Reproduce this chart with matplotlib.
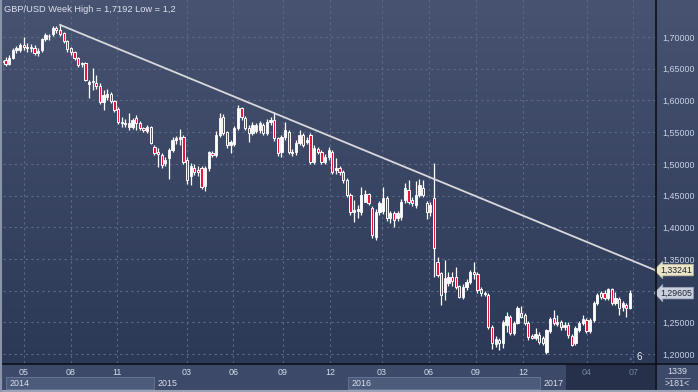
import matplotlib.pyplot as plt
import matplotlib.transforms as mtransforms
from matplotlib.patches import Rectangle
import numpy as np

# GBP/USD weekly candles (oldest first)
opens = [
    1.660, 1.664, 1.658, 1.667, 1.679, 1.680, 1.688, 1.684, 1.682, 1.683,
    1.675, 1.679, 1.697, 1.701, 1.704, 1.715, 1.711, 1.706, 1.694, 1.682,
    1.676, 1.667, 1.657, 1.659, 1.626, 1.629, 1.628, 1.622, 1.598, 1.605,
    1.610, 1.599, 1.587, 1.566, 1.564, 1.558, 1.558, 1.572, 1.564, 1.556,
    1.552, 1.558, 1.527, 1.518, 1.514, 1.501, 1.509, 1.522, 1.537, 1.539,
    1.542, 1.506, 1.480, 1.494, 1.490, 1.493, 1.465, 1.494, 1.517, 1.514,
    1.546, 1.574, 1.550, 1.530, 1.532, 1.557, 1.588, 1.573, 1.557, 1.549,
    1.552, 1.553, 1.561, 1.549, 1.566, 1.569, 1.540, 1.518, 1.542, 1.550,
    1.519, 1.519, 1.533, 1.545, 1.535, 1.545, 1.503, 1.523, 1.519, 1.503,
    1.510, 1.519, 1.490, 1.493, 1.487, 1.474, 1.451, 1.424, 1.426, 1.424,
    1.440, 1.452, 1.430, 1.385, 1.424, 1.425, 1.446, 1.414, 1.422, 1.414,
    1.416, 1.443, 1.459, 1.443, 1.435, 1.451, 1.462, 1.438, 1.424, 1.446,
    1.345, 1.328, 1.298, 1.312, 1.322, 1.322, 1.307, 1.290, 1.306, 1.314,
    1.329, 1.326, 1.302, 1.297, 1.293, 1.243, 1.216, 1.222, 1.218, 1.246,
    1.259, 1.233, 1.249, 1.265, 1.261, 1.249, 1.228, 1.226, 1.230, 1.225,
    1.203, 1.237, 1.257, 1.248, 1.251, 1.242, 1.246, 1.228, 1.217, 1.238,
    1.249, 1.254, 1.236, 1.254, 1.281, 1.296, 1.296, 1.288, 1.302, 1.281,
    1.287, 1.274, 1.278, 1.273]
highs = [
    1.665, 1.668, 1.672, 1.682, 1.686, 1.690, 1.700, 1.690, 1.689, 1.688,
    1.683, 1.699, 1.706, 1.705, 1.717, 1.717, 1.7192, 1.708, 1.696, 1.684,
    1.678, 1.669, 1.661, 1.660, 1.632, 1.651, 1.640, 1.627, 1.616, 1.618,
    1.614, 1.601, 1.590, 1.574, 1.570, 1.580, 1.572, 1.577, 1.567, 1.558,
    1.562, 1.560, 1.529, 1.525, 1.517, 1.510, 1.525, 1.542, 1.544, 1.555,
    1.545, 1.510, 1.502, 1.500, 1.496, 1.496, 1.496, 1.520, 1.520, 1.552,
    1.580, 1.578, 1.552, 1.538, 1.560, 1.593, 1.590, 1.576, 1.561, 1.566,
    1.565, 1.568, 1.565, 1.570, 1.574, 1.582, 1.543, 1.546, 1.566, 1.554,
    1.523, 1.537, 1.553, 1.548, 1.542, 1.548, 1.529, 1.526, 1.522, 1.515,
    1.526, 1.522, 1.509, 1.496, 1.490, 1.477, 1.454, 1.443, 1.435, 1.463,
    1.458, 1.454, 1.433, 1.428, 1.442, 1.463, 1.450, 1.426, 1.426, 1.426,
    1.445, 1.470, 1.474, 1.447, 1.473, 1.476, 1.474, 1.442, 1.440, 1.5018,
    1.353, 1.330, 1.348, 1.330, 1.330, 1.337, 1.309, 1.310, 1.318, 1.333,
    1.345, 1.330, 1.306, 1.300, 1.296, 1.246, 1.228, 1.225, 1.254, 1.266,
    1.262, 1.252, 1.275, 1.276, 1.264, 1.252, 1.232, 1.241, 1.234, 1.228,
    1.240, 1.258, 1.269, 1.262, 1.254, 1.250, 1.250, 1.231, 1.244, 1.252,
    1.262, 1.257, 1.257, 1.284, 1.296, 1.299, 1.301, 1.304, 1.304, 1.298,
    1.290, 1.284, 1.281, 1.301]
lows = [
    1.648, 1.655, 1.656, 1.665, 1.675, 1.676, 1.680, 1.677, 1.676, 1.672,
    1.670, 1.677, 1.693, 1.696, 1.702, 1.707, 1.702, 1.690, 1.677, 1.672,
    1.663, 1.652, 1.653, 1.630, 1.604, 1.616, 1.618, 1.594, 1.585, 1.600,
    1.596, 1.582, 1.563, 1.558, 1.558, 1.554, 1.555, 1.553, 1.553, 1.550,
    1.549, 1.531, 1.514, 1.495, 1.494, 1.497, 1.476, 1.519, 1.532, 1.529,
    1.500, 1.468, 1.466, 1.482, 1.480, 1.460, 1.457, 1.488, 1.510, 1.510,
    1.543, 1.546, 1.525, 1.517, 1.528, 1.553, 1.569, 1.553, 1.534, 1.546,
    1.548, 1.549, 1.546, 1.545, 1.562, 1.536, 1.513, 1.510, 1.538, 1.515,
    1.512, 1.514, 1.530, 1.527, 1.532, 1.500, 1.500, 1.515, 1.500, 1.499,
    1.506, 1.484, 1.484, 1.482, 1.470, 1.447, 1.420, 1.408, 1.414, 1.420,
    1.440, 1.435, 1.383, 1.380, 1.420, 1.421, 1.410, 1.406, 1.401, 1.410,
    1.412, 1.438, 1.436, 1.433, 1.430, 1.447, 1.447, 1.413, 1.417, 1.321,
    1.321, 1.277, 1.285, 1.308, 1.307, 1.303, 1.288, 1.287, 1.301, 1.310,
    1.318, 1.297, 1.292, 1.291, 1.240, 1.208, 1.211, 1.207, 1.209, 1.235,
    1.230, 1.230, 1.247, 1.256, 1.246, 1.222, 1.223, 1.222, 1.215, 1.214,
    1.200, 1.233, 1.246, 1.244, 1.238, 1.238, 1.226, 1.213, 1.214, 1.234,
    1.246, 1.233, 1.233, 1.251, 1.278, 1.287, 1.285, 1.285, 1.277, 1.278,
    1.262, 1.268, 1.258, 1.271]
closes = [
    1.662, 1.658, 1.667, 1.679, 1.682, 1.688, 1.684, 1.682, 1.684, 1.675,
    1.678, 1.697, 1.703, 1.702, 1.715, 1.711, 1.705, 1.694, 1.681, 1.676,
    1.667, 1.656, 1.659, 1.632, 1.629, 1.630, 1.622, 1.597, 1.609, 1.610,
    1.599, 1.585, 1.566, 1.564, 1.563, 1.565, 1.569, 1.564, 1.556, 1.553,
    1.558, 1.533, 1.517, 1.516, 1.498, 1.506, 1.522, 1.538, 1.540, 1.542,
    1.503, 1.475, 1.496, 1.487, 1.487, 1.463, 1.494, 1.518, 1.514, 1.546,
    1.572, 1.549, 1.530, 1.535, 1.557, 1.588, 1.574, 1.557, 1.549, 1.561,
    1.561, 1.564, 1.549, 1.566, 1.569, 1.540, 1.517, 1.542, 1.553, 1.519,
    1.517, 1.533, 1.545, 1.530, 1.538, 1.503, 1.525, 1.519, 1.503, 1.511,
    1.522, 1.487, 1.493, 1.487, 1.474, 1.451, 1.424, 1.427, 1.428, 1.451,
    1.452, 1.438, 1.387, 1.424, 1.438, 1.446, 1.414, 1.422, 1.411, 1.422,
    1.440, 1.462, 1.440, 1.438, 1.451, 1.467, 1.451, 1.424, 1.435, 1.367,
    1.325, 1.293, 1.320, 1.322, 1.315, 1.306, 1.290, 1.306, 1.314, 1.329,
    1.326, 1.301, 1.296, 1.295, 1.243, 1.217, 1.224, 1.218, 1.251, 1.260,
    1.233, 1.249, 1.273, 1.259, 1.249, 1.227, 1.226, 1.232, 1.219, 1.217,
    1.238, 1.255, 1.249, 1.251, 1.242, 1.246, 1.230, 1.214, 1.241, 1.249,
    1.255, 1.236, 1.254, 1.281, 1.293, 1.290, 1.288, 1.302, 1.280, 1.288,
    1.273, 1.280, 1.272, 1.296]

# month grid / labels (bar index positions)
month_pos = [6.1, 19.0, 31.7, 51.0, 63.7, 77.4, 90.4, 104.7, 117.6, 130.6, 143.6, 161.2, 173.9]
month_labels = ['05', '08', '11', '03', '06', '09', '12', '03', '06', '09', '12', '04', '07']
years = ['2014', '2015', '2016', '2017']
price_ticks = [1.20, 1.25, 1.30, 1.35, 1.40, 1.45, 1.50, 1.55, 1.60, 1.65, 1.70]

# trend line from the 2014 top
trend_start = (16, 1.7192)
trend_end_price = 1.33241
last_price = 1.29605

W, H = 698, 392
plt.rcParams['font.family'] = 'Liberation Sans'


def fr(x, y, w, h):
    # pixel box (top-left origin) -> figure fraction
    return [x / W, 1 - (y + h) / H, w / W, h / H]


fig = plt.figure(figsize=(W / 100, H / 100), dpi=100)

# background gradient for the whole window
bg = fig.add_axes([0, 0, 1, 1], zorder=0)
grad = np.linspace(0, 1, 256).reshape(-1, 1)
top = np.array([0x47, 0x53, 0x70]) / 255
bot = np.array([0x29, 0x36, 0x54]) / 255
img = top + (bot - top) * grad[..., None]
bg.imshow(img, aspect='auto', extent=[0, 1, 0, 1])
bg.set_xlim(0, 1)
bg.set_ylim(0, 1)
bg.axis('off')

ax = fig.add_axes(fr(3, 0, 652, 363), zorder=2)
ax.set_facecolor('none')

x = np.arange(len(closes))
o = np.array(opens)
c = np.array(closes)
h = np.maximum(np.array(highs), np.maximum(o, c))
l = np.minimum(np.array(lows), np.minimum(o, c))
up = c >= o

ax.vlines(x, l, h, color='white', lw=0.9, zorder=3)
ax.bar(x[up], c[up] - o[up], bottom=o[up], width=0.62,
       color='white', edgecolor='white', lw=0.6, zorder=4)
ax.bar(x[~up], o[~up] - c[~up], bottom=c[~up], width=0.62,
       color='#e8153f', edgecolor='white', lw=0.7, zorder=4)

xmin, xmax = 0.3, 179.9
ax.set_xlim(xmin, xmax)
ax.set_ylim(1.1858, 1.7584)

ax.plot([trend_start[0], xmax], [trend_start[1], trend_end_price],
        color='#d9d9dc', lw=1.3, zorder=5, clip_on=False)

# 1,30000 sits under the last-price marker, so its label is left blank
ax.set_yticks(price_ticks)
ax.set_yticklabels(['' if abs(p - 1.30) < 1e-9 else f'{p:.5f}'.replace('.', ',')
                    for p in price_ticks])
ax.yaxis.tick_right()
ax.tick_params(axis='y', length=0, pad=5, labelsize=6.4, labelcolor='#c9d3e6')
ax.set_xticks(month_pos)
ax.set_xticklabels(month_labels)
ax.tick_params(axis='x', length=0, pad=3.5, labelsize=6.4, labelcolor='#d4dcec')
for t in ax.get_xticklabels()[-2:]:
    t.set_color('#75819a')

ax.grid(True, color='#5c6a88', linestyle=(0, (2, 3)), lw=0.8)
ax.set_axisbelow(True)
for s in ax.spines.values():
    s.set_visible(False)

ax.text(0.002, 0.985, 'GBP/USD Week High = 1,7192 Low = 1,2', transform=ax.transAxes,
        ha='left', va='top', fontsize=6.7, color='#dde2ee', zorder=6)

# price markers on the right scale
blend = mtransforms.blended_transform_factory(ax.transAxes, ax.transData)
ax.text(1.008, trend_end_price, f'{trend_end_price:.5f}'.replace('.', ','), transform=blend,
        ha='left', va='center', fontsize=6.3, color='#1e2433', zorder=7, clip_on=False,
        bbox=dict(boxstyle='larrow,pad=0.15', fc='#e9e5c6', ec='#b8b49a', lw=0.5))
ax.text(1.008, last_price, f'{last_price:.5f}'.replace('.', ','), transform=blend,
        ha='left', va='center', fontsize=6.3, color='#1e2433', zorder=7, clip_on=False,
        bbox=dict(boxstyle='larrow,pad=0.15', fc='#c9d0dd', ec='#98a2b6', lw=0.5))

# bottom time panel
fig.patches.append(Rectangle(fr(0, 363, 698, 29)[:2], 1, 29 / H, transform=fig.transFigure,
                             fc='#3d4968', ec='none', zorder=1))
for xa, w in [(6, 148), (348, 192)]:
    b = fr(xa, 377, w, 12)
    fig.patches.append(Rectangle(b[:2], b[2], b[3], transform=fig.transFigure,
                                 fc='#4d5b7b', ec='#68779a', lw=0.6, zorder=1))
b = fr(566, 364, 89, 26)
fig.patches.append(Rectangle(b[:2], b[2], b[3], transform=fig.transFigure,
                             fc='#26304a', ec='none', zorder=1))
for yr, xp in zip(years, [10, 158, 352, 544]):
    fig.text(xp / W, 1 - 383 / H, yr, ha='left', va='center', fontsize=6.4,
             color='#d8deea', zorder=3)

# separators
fig.add_artist(plt.Line2D([0, 1], [1 - 363.5 / H] * 2, color='#0d1018', lw=1.2, zorder=3))
fig.add_artist(plt.Line2D([655.5 / W] * 2, [0, 1], color='#0d1018', lw=1.2, zorder=3))
fig.add_artist(plt.Line2D([0, 1], [1 - 391 / H] * 2, color='#9aa3b6', lw=1.5, zorder=3))
fig.add_artist(plt.Line2D([0.8 / W] * 2, [0, 1], color='#8a94aa', lw=1.5, zorder=3))

fig.text(677 / W, 1 - 371 / H, '1339', ha='center', va='center', fontsize=6.4, color='#d8deea')
fig.add_artist(plt.Line2D([665 / W, 690 / W], [1 - 377.5 / H] * 2, color='#8f99b0', lw=0.6))
fig.text(677 / W, 1 - 384 / H, '>181<', ha='center', va='center', fontsize=6.4, color='#d8deea')

fig.text(639 / W, 1 - 357 / H, '6', ha='center', va='center', fontsize=7, color='#e6eaf2', zorder=6)
fig.text(631 / W, 1 - 358 / H, '\u25b2', ha='center', va='center', fontsize=4, color='#59647c', zorder=6)

fig.savefig('out.png', dpi=100)
